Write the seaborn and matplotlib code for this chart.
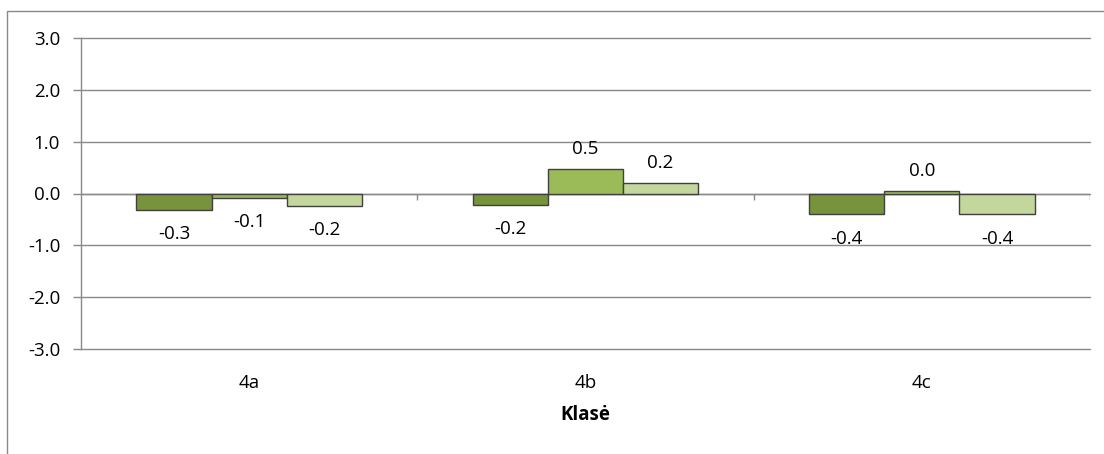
import matplotlib
matplotlib.use("Agg")
import matplotlib.pyplot as plt
import matplotlib.patches as mpatches
import seaborn as sns
import pandas as pd

# values
classes = ["4a", "4b", "4c"]
series = ["I", "II", "III"]
values_s1 = [-0.32, -0.22, -0.40]
values_s2 = [-0.08, 0.48, 0.04]
values_s3 = [-0.24, 0.21, -0.40]
colors = ["#77933C", "#9BBB59", "#C3D69B"]
yticks = [-3.0, -2.0, -1.0, 0.0, 1.0, 2.0, 3.0]

df = pd.DataFrame({
    "Klasė": classes * 3,
    "serie": [s for s in series for _ in classes],
    "value": values_s1 + values_s2 + values_s3,
})

sns.set_theme(style="white")
plt.rcParams["font.family"] = ["Open Sans", "DejaVu Sans"]
plt.rcParams["text.color"] = "black"
plt.rcParams["xtick.color"] = "black"
plt.rcParams["ytick.color"] = "black"
plt.rcParams["axes.labelcolor"] = "black"

grid_col = "#898989"
fs = 13.5
fig = plt.figure(figsize=(11.04, 4.54), dpi=100)
ax = fig.add_axes([81 / 1104, 1 - 349 / 454, (1090 - 81) / 1104, (349 - 38) / 454])

sns.barplot(data=df, x="Klasė", y="value", hue="serie", palette=colors,
            saturation=1, width=0.67, gap=0, edgecolor="#404040", linewidth=1.0,
            legend=False, ax=ax, zorder=3)

# data labels: a bit further from the bar end below zero than above
for cont, vals in zip(ax.containers, [values_s1, values_s2, values_s3]):
    neg = [f"{v:.1f}" if v < 0 else "" for v in vals]
    pos = [f"{v:.1f}" if v >= 0 else "" for v in vals]
    ax.bar_label(cont, labels=neg, padding=11, fontsize=fs, color="black")
    ax.bar_label(cont, labels=pos, padding=8, fontsize=fs, color="black")

ax.set_ylim(-3, 3)
ax.set_xlim(-0.5, 2.5)
ax.set_yticks(yticks)
ax.set_yticklabels([f"{v:.1f}" for v in yticks], fontsize=fs)
ax.yaxis.grid(True, color=grid_col, linewidth=1.0, zorder=0)
for gl in ax.get_ygridlines():
    gl.set_clip_on(False)
ax.set_axisbelow(True)
ax.tick_params(axis="y", length=6, width=1, color=grid_col, left=True, pad=9,
               labelcolor="black")
ax.tick_params(axis="x", length=0, pad=18, labelsize=fs, labelcolor="black")

for side in ["top", "right", "bottom"]:
    ax.spines[side].set_visible(False)
ax.spines["left"].set_color(grid_col)
ax.spines["left"].set_linewidth(1.0)

# category axis at zero with boundary tick marks
ax.axhline(0, color=grid_col, linewidth=1.0, zorder=2)
ax.vlines([0.5, 1.5, 2.5], -0.13, 0, color=grid_col, linewidth=1.0, zorder=2)

ax.set_ylabel("")
ax.set_xlabel("Klasė", fontsize=fs, fontweight="bold", labelpad=9)

# chart area border
fig.patches.append(mpatches.Rectangle((7 / 1104, -0.1), 1.2, 1.1 - 11 / 454,
                                      transform=fig.transFigure, fill=False,
                                      edgecolor=grid_col, linewidth=1.0))

fig.savefig("out.png", dpi=100)
